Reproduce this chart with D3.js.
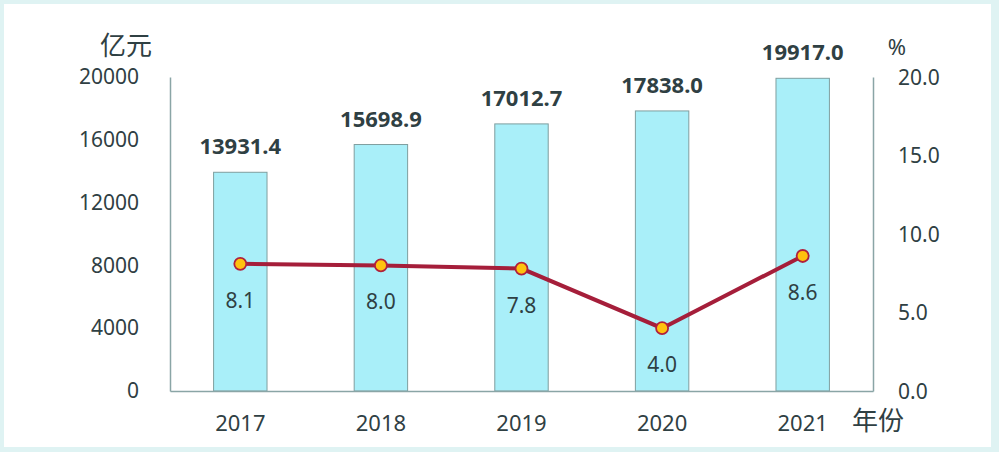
<!DOCTYPE html>
<html>
<head>
<meta charset="utf-8">
<script src="https://cdn.jsdelivr.net/npm/d3@7"></script>
<style>
    body { margin: 0; background: #fff; }
    svg { display: block; }
    text { font-family: "Noto Sans", "Noto Sans CJK SC", sans-serif; fill: #2f4043; }
</style>
</head>
<body>
<div id="chart"></div>
<script>
"use strict";

// data
var years = ["2017", "2018", "2019", "2020", "2021"];
var amounts = [13931.4, 15698.9, 17012.7, 17838.0, 19917.0];
var growth = [8.1, 8.0, 7.8, 4.0, 8.6];
var leftTicks = [0, 4000, 8000, 12000, 16000, 20000];
var rightTicks = [0, 5, 10, 15, 20];

var W = 999, H = 452;
var margin = { top: 77, right: 126, bottom: 61, left: 170 };
var width = W - margin.left - margin.right,
    height = H - margin.top - margin.bottom;

var svg = d3.select("#chart")
    .append("svg")
    .attr("width", W)
    .attr("height", H);

// light frame round the picture
svg.append("rect")
    .attr("width", W).attr("height", H)
    .attr("fill", "#dff3f3");
svg.append("rect")
    .attr("x", 4).attr("y", 4)
    .attr("width", W - 12).attr("height", H - 9)
    .attr("fill", "#fff");

var g = svg.append("g")
    .attr("transform", "translate(" + margin.left + "," + margin.top + ")");

var x = d3.scaleBand()
    .domain(years)
    .range([0, width])
    .paddingInner(0.62)
    .paddingOuter(0.31);

var y = d3.scaleLinear().domain([0, 20000]).range([height, 0]);
var y2 = d3.scaleLinear().domain([0, 20]).range([height, 0]);

// bars
g.selectAll(".bar")
    .data(amounts)
    .enter().append("rect")
    .attr("x", function (d, i) { return x(years[i]); })
    .attr("y", function (d) { return y(d); })
    .attr("width", x.bandwidth())
    .attr("height", function (d) { return height - y(d); })
    .attr("fill", "#a9eff9")
    .attr("stroke", "#7f9e9f")
    .attr("stroke-width", 1);

// bar value labels
g.selectAll(".barlabel")
    .data(amounts)
    .enter().append("text")
    .attr("x", function (d, i) { return x(years[i]) + x.bandwidth() / 2; })
    .attr("y", function (d) { return y(d) - 18; })
    .attr("text-anchor", "middle")
    .style("font-size", "22px")
    .style("font-weight", "bold")
    .text(function (d) { return d.toFixed(1); });

// axes
var leftAxis = g.append("g")
    .call(d3.axisLeft(y).tickValues(leftTicks).tickSize(0).tickPadding(31)
        .tickFormat(d3.format("d")));
var rightAxis = g.append("g")
    .attr("transform", "translate(" + width + ",0)")
    .call(d3.axisRight(y2).tickValues(rightTicks).tickSize(0).tickPadding(25)
        .tickFormat(d3.format(".1f")));
var bottomAxis = g.append("g")
    .attr("transform", "translate(0," + height + ")")
    .call(d3.axisBottom(x).tickSize(0).tickPadding(24));

[leftAxis, rightAxis, bottomAxis].forEach(function (a) {
    a.select(".domain").attr("stroke", "#8aa5a6").attr("stroke-width", 1.5);
    a.selectAll("text")
        .style("font-size", "21px")
        .style("font-family", "'Noto Sans', sans-serif")
        .attr("fill", "#2f4043");
});
rightAxis.selectAll("text").attr("dy", "0.35em");
bottomAxis.selectAll("text").style("font-size", "22px");

// growth line
var cx = function (d, i) { return x(years[i]) + x.bandwidth() / 2; };
g.append("path")
    .datum(growth)
    .attr("fill", "none")
    .attr("stroke", "#a51e3a")
    .attr("stroke-width", 4)
    .attr("d", d3.line()
        .x(cx)
        .y(function (d) { return y2(d); }));

g.selectAll(".dot")
    .data(growth)
    .enter().append("circle")
    .attr("cx", cx)
    .attr("cy", function (d) { return y2(d); })
    .attr("r", 6)
    .attr("fill", "#ffc20e")
    .attr("stroke", "#b0203c")
    .attr("stroke-width", 1.8);

g.selectAll(".dotlabel")
    .data(growth)
    .enter().append("text")
    .attr("x", cx)
    .attr("y", function (d) { return y2(d) + 44; })
    .attr("text-anchor", "middle")
    .style("font-size", "21px")
    .text(function (d) { return d.toFixed(1); });

// unit labels
svg.append("text")
    .attr("x", 126).attr("y", 55)
    .attr("text-anchor", "middle")
    .style("font-size", "26px")
    .style("font-family", "'Noto Sans CJK SC', sans-serif")
    .text("亿元");
svg.append("text")
    .attr("x", 897).attr("y", 55)
    .attr("text-anchor", "middle")
    .style("font-size", "22px")
    .text("%");
svg.append("text")
    .attr("x", 878).attr("y", 430)
    .attr("text-anchor", "middle")
    .style("font-size", "26px")
    .style("font-family", "'Noto Sans CJK SC', sans-serif")
    .text("年份");
</script>
</body>
</html>
